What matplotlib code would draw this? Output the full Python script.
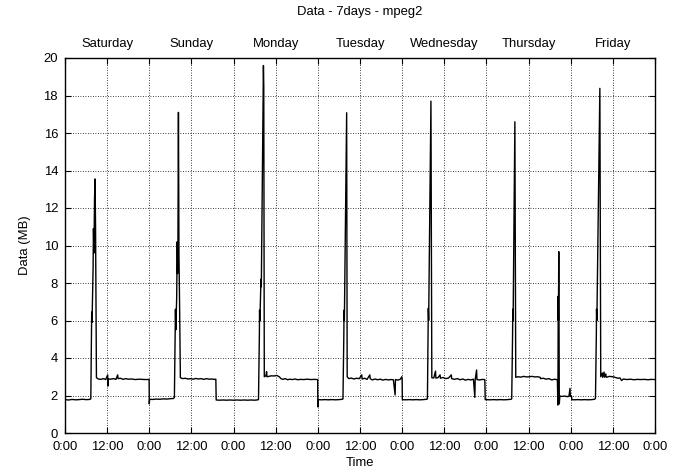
import matplotlib
matplotlib.use("Agg")
import matplotlib.pyplot as plt
import numpy as np

plt.rcParams['font.family'] = ['Liberation Sans', 'DejaVu Sans']

# ---- data: hours since Saturday 0:00, values in MB ----
sat_hours = [0.0, 1.0, 2.0, 3.0, 4.0, 5.0, 6.0, 7.0, 7.35, 7.55, 7.6, 7.7, 8.0, 8.1, 8.25, 8.4, 8.55, 8.7,
             8.95, 9.5, 10.2, 11.0, 11.6, 12.15, 12.2, 12.3, 13.0, 13.8, 14.5, 15.0, 15.1, 15.8, 16.5,
             17.3, 18.0, 19.0, 20.0, 21.0, 22.0, 23.0, 23.95]
sat_mb = [1.78, 1.76, 1.79, 1.77, 1.78, 1.80, 1.78, 1.79, 1.82, 5.3, 6.45, 5.9, 8.8, 10.9, 9.6, 12.4, 13.55, 11.0,
          2.95, 2.88, 2.86, 2.90, 2.85, 3.10, 2.50, 2.88, 2.87, 2.90, 2.86, 3.10, 2.90, 2.92, 2.86,
          2.90, 2.87, 2.88, 2.85, 2.87, 2.86, 2.85, 2.86]

sun_hours = [24.0, 24.1, 25.0, 26.0, 27.0, 28.0, 29.0, 30.0, 30.9, 31.15, 31.35, 31.45, 31.55, 31.8, 31.95,
             32.05, 32.15, 32.3, 32.45, 32.6, 32.85, 33.5, 34.2, 35.0, 35.8, 36.5, 37.2, 38.0, 38.8, 39.5,
             40.3, 41.0, 41.8, 42.5, 42.95, 43.05, 44.0, 45.0, 46.0, 47.0]
sun_mb = [1.55, 1.80, 1.79, 1.81, 1.80, 1.82, 1.81, 1.83, 1.84, 1.90, 5.3, 6.6, 5.5, 7.2, 10.2,
          8.5, 9.8, 17.1, 9.5, 7.3, 2.95, 2.90, 2.92, 2.88, 2.90, 2.87, 2.91, 2.88, 2.90, 2.86,
          2.90, 2.87, 2.88, 2.86, 2.87, 1.76, 1.75, 1.76, 1.75, 1.76]

mon_hours = [48.0, 49.0, 50.0, 51.0, 52.0, 53.0, 54.0, 55.0, 55.1, 55.35, 55.4, 55.5, 55.8, 55.9, 56.5,
             56.6, 56.75, 57.2, 57.4, 57.5, 58.0, 58.8, 59.5, 60.3, 61.0, 61.5, 62.0, 62.7, 63.4, 64.0,
             64.8, 65.5, 66.3, 67.0, 68.0, 69.0, 70.0, 71.0, 71.95]
mon_mb = [1.75, 1.76, 1.75, 1.76, 1.75, 1.76, 1.75, 1.77, 1.80, 5.3, 6.55, 6.0, 8.2, 7.8, 19.6,
          18.5, 3.00, 3.05, 3.27, 3.00, 3.02, 3.05, 3.04, 3.07, 3.00, 2.90, 2.86, 2.90, 2.84, 2.87,
          2.85, 2.88, 2.84, 2.86, 2.85, 2.87, 2.85, 2.86, 2.85]

tue_hours = [72.0, 72.1, 73.0, 74.0, 75.0, 76.0, 77.0, 78.0, 79.0, 79.15, 79.4, 79.45, 79.55, 80.2, 80.35,
             80.8, 81.5, 82.3, 83.0, 83.8, 84.5, 84.6, 85.3, 86.0, 86.8, 86.9, 87.5, 88.3, 89.0, 89.8,
             90.5, 91.3, 92.0, 92.8, 93.5, 94.0, 94.1, 94.8, 95.5, 95.9, 96.0]
tue_mb = [1.39, 1.78, 1.77, 1.78, 1.77, 1.78, 1.77, 1.78, 1.80, 1.82, 5.3, 6.55, 6.0, 17.08, 3.00,
          2.90, 2.93, 2.88, 2.92, 2.90, 3.10, 2.88, 2.92, 2.86, 3.10, 2.90, 2.83, 2.88, 2.84, 2.87,
          2.82, 2.86, 2.83, 2.85, 2.84, 2.03, 2.85, 2.82, 2.87, 3.00, 2.85]

wed_hours = [96.05, 97.0, 98.0, 99.0, 100.0, 101.0, 102.0, 103.0, 103.2, 103.4, 103.45, 103.55, 104.2,
             104.45, 105.0, 105.5, 105.6, 106.2, 106.8, 106.9, 107.6, 108.4, 109.2, 110.0, 110.1, 110.9,
             111.7, 112.5, 113.3, 114.0, 114.8, 115.6, 116.3, 116.7, 116.8, 117.2, 117.3, 118.0, 119.0,
             119.55, 119.65]
wed_mb = [1.78, 1.77, 1.78, 1.77, 1.78, 1.77, 1.78, 1.80, 1.82, 5.3, 6.65, 6.0, 17.7,
          2.95, 2.93, 3.30, 2.93, 2.95, 3.10, 2.92, 2.96, 2.90, 2.93, 3.10, 2.90, 2.86,
          2.90, 2.84, 2.88, 2.82, 2.86, 2.83, 2.87, 1.90, 2.85, 3.36, 2.85, 2.83, 2.86,
          2.84, 1.78]

thu_hours = [120.0, 121.0, 122.0, 123.0, 124.0, 125.0, 126.0, 127.0, 127.2, 127.45, 127.5, 127.6, 128.1,
             128.35, 129.0, 129.8, 130.6, 131.4, 132.2, 133.0, 133.8, 134.6, 135.3, 135.4, 136.2, 137.0,
             137.8, 138.6, 139.4, 140.2, 140.35, 140.45, 140.5, 140.6, 140.75, 140.9, 141.5, 142.3,
             143.0, 143.5, 143.8, 143.9, 144.25]
thu_mb = [1.78, 1.77, 1.78, 1.77, 1.78, 1.77, 1.78, 1.80, 1.82, 5.3, 6.6, 6.0, 16.6,
          2.97, 3.00, 2.98, 3.02, 2.99, 3.00, 3.02, 2.99, 3.00, 2.97, 2.90, 2.92, 2.87,
          2.90, 2.83, 2.87, 2.84, 1.49, 7.3, 6.0, 9.67, 1.55, 1.97, 1.95, 1.97,
          1.94, 1.96, 2.38, 1.95, 1.96]

fri_hours = [144.3, 145.0, 146.0, 147.0, 148.0, 149.0, 150.0, 150.8, 151.05, 151.3, 151.35, 151.45, 152.3,
             152.55, 153.0, 153.1, 153.5, 153.6, 154.0, 154.1, 155.0, 156.0, 157.0, 157.5, 158.0, 158.5,
             159.0, 160.0, 161.0, 162.0, 163.0, 164.0, 165.0, 166.0, 167.0, 168.0]
fri_mb = [1.78, 1.77, 1.78, 1.77, 1.78, 1.77, 1.78, 1.80, 1.84, 5.3, 6.6, 6.0, 18.38,
          3.00, 3.20, 2.97, 3.25, 2.98, 3.15, 2.97, 3.02, 3.00, 2.95, 2.92, 2.94, 2.80,
          2.88, 2.85, 2.87, 2.84, 2.86, 2.85, 2.86, 2.84, 2.86, 2.85]

x_tick_hours = list(range(0, 169, 12))
x_tick_labels = ['0:00' if h % 24 == 0 else '12:00' for h in x_tick_hours]
y_ticks = list(range(0, 21, 2))
day_names = ['Saturday', 'Sunday', 'Monday', 'Tuesday', 'Wednesday', 'Thursday', 'Friday']
day_label_hours = [12 + 24 * i for i in range(7)]

hours = np.concatenate([sat_hours, sun_hours, mon_hours, tue_hours, wed_hours, thu_hours, fri_hours])
mb = np.concatenate([sat_mb, sun_mb, mon_mb, tue_mb, wed_mb, thu_mb, fri_mb])

FS = 9.4

# ---- figure ----
fig = plt.figure(figsize=(6.78, 4.72), dpi=100)
ax = fig.add_axes([65 / 678, 39 / 472, 590 / 678, 375 / 472])

ax.plot(hours, mb, color='black', linewidth=1.0)

ax.set_xlim(0, 168)
ax.set_ylim(0, 20)
ax.set_xticks(x_tick_hours)
ax.set_xticklabels(x_tick_labels)
ax.set_yticks(y_ticks)
ax.tick_params(direction='in', length=4, width=0.8, top=True, right=True, labelsize=FS, pad=5,
               colors='black')
ax.tick_params(axis='x', pad=6)
ax.grid(True, color='black', linestyle=(0, (1, 2)), linewidth=0.6)
for s in ax.spines.values():
    s.set_linewidth(1.0)

sec = ax.secondary_xaxis('top')
sec.set_xticks(day_label_hours)
sec.set_xticklabels(day_names)
sec.tick_params(length=0, labelsize=FS, pad=6)
for s in sec.spines.values():
    s.set_visible(False)

ax.set_xlabel('Time', fontsize=FS, labelpad=3)
ax.set_ylabel('Data (MB)', fontsize=FS, labelpad=9)
fig.text(360 / 678, 1 - 12 / 472, 'Data - 7days - mpeg2', ha='center', va='center', fontsize=FS)

fig.savefig('out.png', dpi=100)
